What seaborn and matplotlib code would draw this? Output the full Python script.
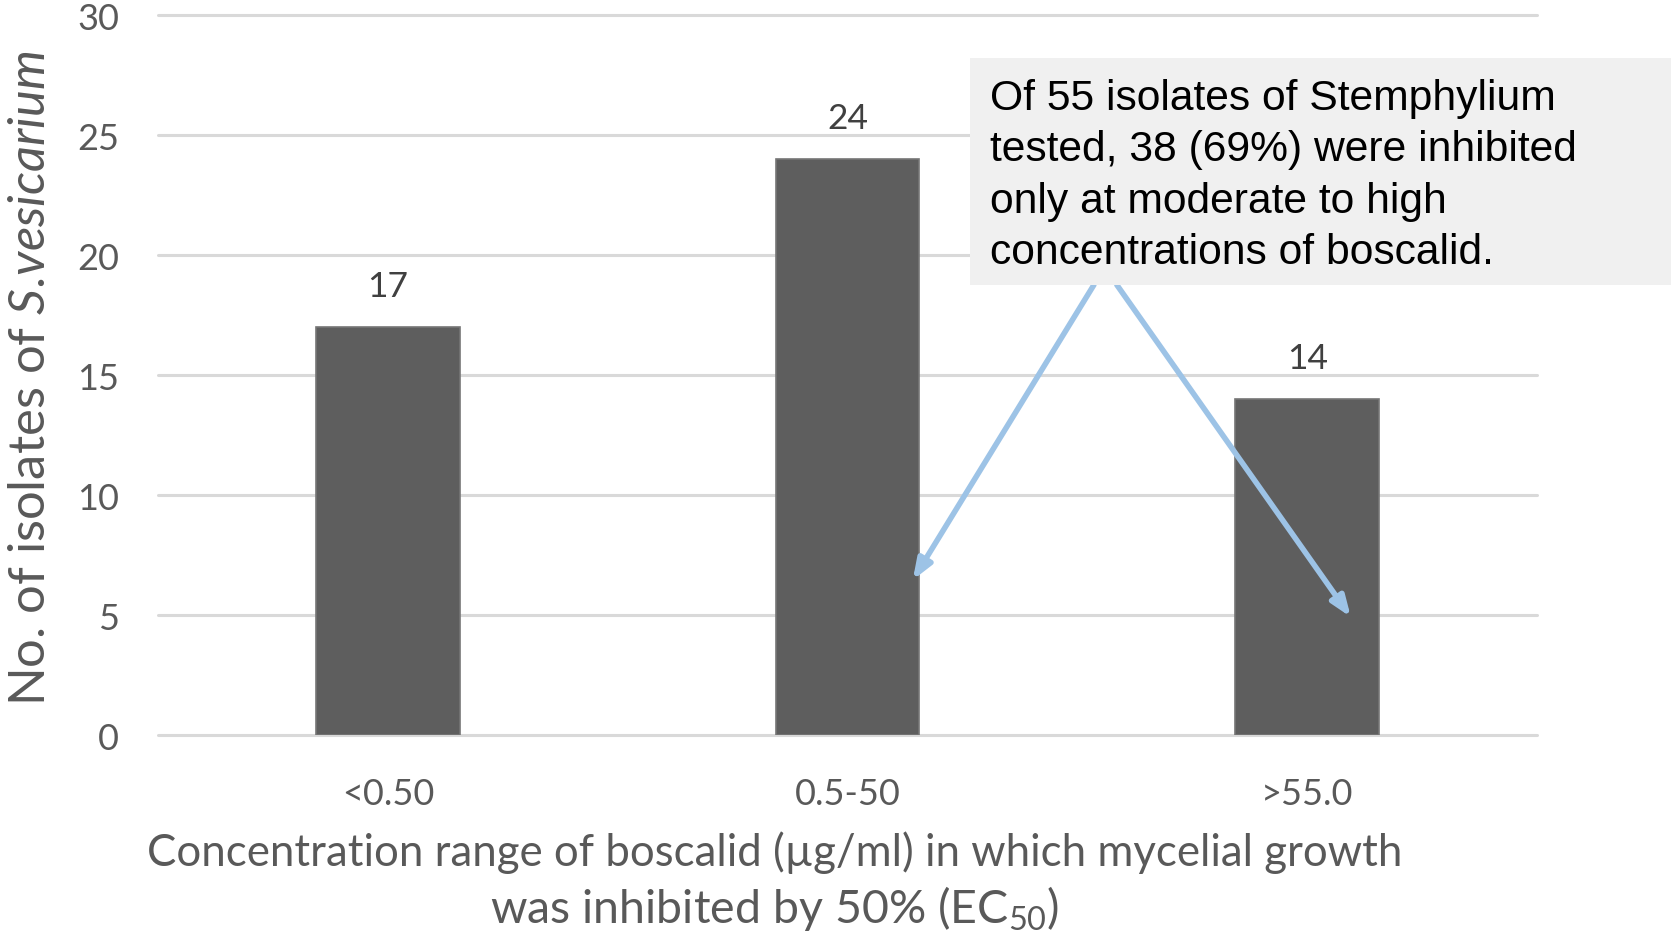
import matplotlib
matplotlib.use("Agg")
import matplotlib.pyplot as plt
import seaborn as sns
from matplotlib.patches import Rectangle

# Number of isolates per boscalid EC50 range
categories = ["<0.50", "0.5-50", ">55.0"]
counts = [17, 24, 14]
y_ticks = [0, 5, 10, 15, 20, 25, 30]

note = ("Of 55 isolates of Stemphylium\n"
        "tested, 38 (69%) were inhibited\n"
        "only at moderate to high\n"
        "concentrations of boscalid.")

sns.set_theme(style="white")
plt.rcParams["font.family"] = ["Lato", "DejaVu Sans"]
plt.rcParams["mathtext.fontset"] = "custom"
plt.rcParams["mathtext.rm"] = "Lato"
plt.rcParams["mathtext.it"] = "Lato:italic"

W, H = 1671, 937
fig = plt.figure(figsize=(W / 100, H / 100), dpi=100)
ax = fig.add_axes([158 / W, 1 - 736.4 / H, 1379 / W, 720.4 / H])

sns.barplot(x=categories, y=counts, color="#5e5e5e", width=0.313,
            edgecolor="#767676", linewidth=1.2, saturation=1, ax=ax, zorder=3)

ax.set_xlim(-0.5, 2.5)
ax.set_ylim(0, 30)
ax.set_yticks(y_ticks)
ax.set_yticklabels([str(v) for v in y_ticks])
for spine in ax.spines.values():
    spine.set_visible(False)
ax.yaxis.grid(True, color="#d9d9d9", linewidth=2.2, zorder=0)
for gl in ax.get_ygridlines():
    gl.set_clip_on(False)
ax.tick_params(axis="both", length=0, labelsize=26, labelcolor="#595959")
ax.tick_params(axis="y", pad=28)
ax.tick_params(axis="x", pad=30)
ax.set_xlabel("")
ax.set_ylabel("")

for cont in ax.containers:
    ax.bar_label(cont, labels=[str(v) for v in counts], padding=18,
                 fontsize=25.5, color="#404040")

# Axis titles
fig.text(31 / W, 1 - 378 / H, r"No. of isolates of $\it{S.\!vesicarium}$",
         rotation=90, ha="center", va="center", fontsize=36.5, color="#595959")
fig.text(775 / W, 1 - 853 / H,
         "Concentration range of boscalid (µg/ml) in which mycelial growth",
         ha="center", va="center", fontsize=31.5, color="#595959")
fig.text(775 / W, 1 - 909 / H, r"was inhibited by 50% (EC$_{50}$)",
         ha="center", va="center", fontsize=33.5, color="#595959")

# Annotation box with arrows
fig.patches.append(Rectangle((970 / W, 1 - 286 / H), (W - 970) / W, 227 / H,
                             transform=fig.transFigure, facecolor="#f0f0f0",
                             edgecolor="none", zorder=5))
fig.text(990 / W, 1 - 176 / H, note, ha="left", va="center", fontsize=30.7,
         color="black", family=["Liberation Sans"], linespacing=1.37, zorder=6)

arrow_kw = dict(arrowstyle="-|>,head_length=1.0,head_width=0.38",
                color="#9dc3e6", lw=4, shrinkA=0, shrinkB=0)
ax.annotate("", xy=(1.142, 6.47), xytext=(1.536, 18.76),
            arrowprops=arrow_kw, annotation_clip=False, zorder=6)
ax.annotate("", xy=(2.095, 4.93), xytext=(1.586, 18.76),
            arrowprops=arrow_kw, annotation_clip=False, zorder=6)

fig.savefig("out.png", dpi=100)
